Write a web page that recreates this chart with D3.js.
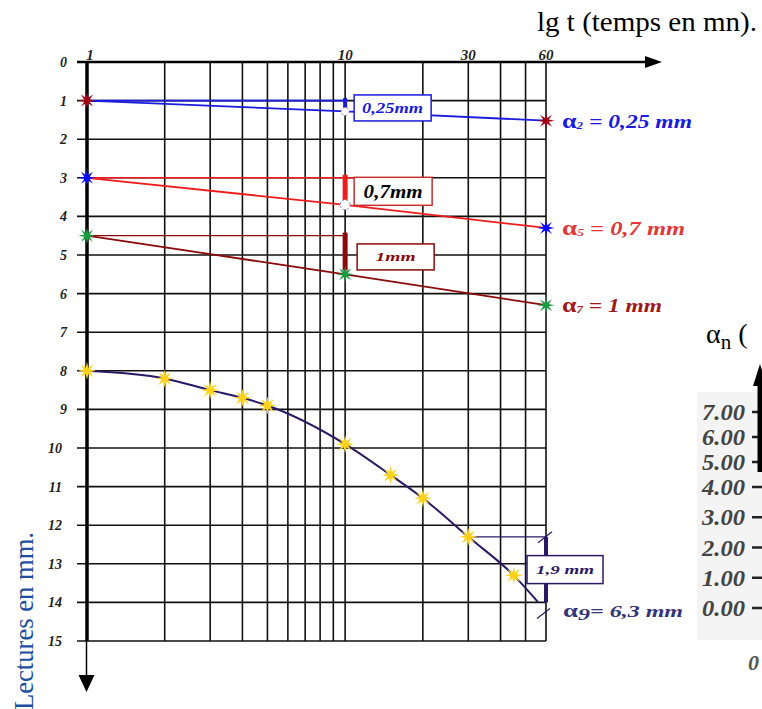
<!DOCTYPE html>
<html>
<head>
<meta charset="utf-8">
<script src="https://cdn.jsdelivr.net/npm/d3@7"></script>
<style>
  body { margin: 0; background: #fff; }
  svg { display: block; }
  text { font-family: "Liberation Serif", "Times New Roman", serif; }
</style>
</head>
<body>
<svg id="chart" width="762" height="709"></svg>
<script>
// ================= DATA ===================
// time axis (minutes, log scale) and readings (mm)
const timeTicks = [1, 2, 3, 4, 5, 6, 7, 8, 9, 10, 20, 30, 40, 50, 60];
const timeLabels = [1, 10, 30, 60];
const readingTicks = d3.range(0, 16);

// series alpha2 (blue line)
const tA2 = [1, 10, 60];
const rA2 = [1.0, 1.28, 1.52];
// series alpha5 (red line)
const tA5 = [1, 10, 60];
const rA5 = [3.0, 3.7, 4.3];
// series alpha7 (dark red line)
const tA7 = [1, 10, 60];
const rA7 = [4.5, 5.5, 6.3];
// series alpha9 (navy curve)
const tA9 = [1, 2, 3, 4, 5, 10, 15, 20, 30, 45, 56];
const rA9 = [8.0, 8.2, 8.5, 8.7, 8.9, 9.9, 10.7, 11.3, 12.3, 13.3, 14.0];

// second (cut off) chart on the right
const alphaTicks = [0, 1, 2, 3, 4, 5, 6, 7];
const alphaTickLabels = ["0.00", "1.00", "2.00", "3.00", "4.00", "5.00", "6.00", "7.00"];

// ================= SETTINGS ===================
const svg = d3.select("#chart");
const x = d3.scaleLog().domain([1, 60]).range([87, 546]);
const y = d3.scaleLinear().domain([0, 15]).range([62, 641]);
// right axis is unevenly spaced in the picture
const yAlpha = d3.scaleLinear().domain([0, 4, 7]).range([608, 487, 412]);

const gridColor = "#111";

// 8 point burst marker
function burst(r1, r2) {
  const pts = [];
  for (let i = 0; i < 16; i++) {
    const r = i % 2 === 0 ? r1 : r2;
    const a = (Math.PI / 8) * i - Math.PI / 2;
    pts.push([r * Math.cos(a), r * Math.sin(a)]);
  }
  return "M" + pts.map((p) => p.join(",")).join("L") + "Z";
}

// ================= GRID ===================
const grid = svg.append("g");

grid
  .selectAll(".vline")
  .data(timeTicks)
  .join("line")
  .attr("x1", (d) => x(d))
  .attr("x2", (d) => x(d))
  .attr("y1", y(0))
  .attr("y2", y(15))
  .attr("stroke", gridColor)
  .attr("stroke-width", 1.6);

grid
  .selectAll(".hline")
  .data(readingTicks.filter((d) => d > 0))
  .join("line")
  .attr("x1", x(1) - 10)
  .attr("x2", x(60))
  .attr("y1", (d) => y(d))
  .attr("y2", (d) => y(d))
  .attr("stroke", gridColor)
  .attr("stroke-width", 1.6);

// ---------- top axis (time) ----------
svg
  .append("line")
  .attr("x1", x(1) - 10)
  .attr("x2", 648)
  .attr("y1", y(0))
  .attr("y2", y(0))
  .attr("stroke", "#000")
  .attr("stroke-width", 2.5);
svg
  .append("path")
  .attr("d", `M645,${y(0) - 6} L662,${y(0)} L645,${y(0) + 6} Z`)
  .attr("fill", "#000");

svg
  .selectAll(".xlab")
  .data(timeLabels)
  .join("text")
  .attr("x", (d) => x(d) + (d === 1 ? 3 : 0))
  .attr("y", y(0) - 2)
  .attr("text-anchor", "middle")
  .attr("font-size", 15)
  .attr("font-style", "italic")
  .attr("font-weight", "bold")
  .attr("fill", "#222")
  .text((d) => d);

svg
  .append("text")
  .attr("x", 537)
  .attr("y", 31)
  .attr("font-size", 28)
  .attr("fill", "#000")
  .attr("textLength", 220)
  .attr("lengthAdjust", "spacingAndGlyphs")
  .text("lg t (temps en mn).");

// ---------- left axis (readings) ----------
svg
  .append("line")
  .attr("x1", x(1))
  .attr("x2", x(1))
  .attr("y1", y(0))
  .attr("y2", y(15))
  .attr("stroke", "#000")
  .attr("stroke-width", 3.5);
svg
  .append("line")
  .attr("x1", x(1) - 0.5)
  .attr("x2", x(1) - 0.5)
  .attr("y1", y(15))
  .attr("y2", 678)
  .attr("stroke", "#000")
  .attr("stroke-width", 1.5);
svg
  .append("path")
  .attr("d", `M${x(1) - 8.5},675 L${x(1) + 7.5},675 L${x(1) - 0.5},692 Z`)
  .attr("fill", "#000");

svg
  .selectAll(".ylab")
  .data(readingTicks)
  .join("text")
  .attr("x", (d) => (d < 10 ? 67 : 62))
  .attr("y", (d) => y(d) + 5)
  .attr("text-anchor", "end")
  .attr("font-size", 14)
  .attr("font-style", "italic")
  .attr("font-weight", "bold")
  .attr("fill", "#222")
  .text((d) => d);

svg
  .append("text")
  .attr("transform", "translate(33,710) rotate(-90)")
  .attr("font-size", 27)
  .attr("fill", "#1d4f9e")
  .attr("textLength", 178)
  .attr("lengthAdjust", "spacingAndGlyphs")
  .text("Lectures en mm.");

// ================= SERIES ===================
const lineGen = d3
  .line()
  .x((d) => x(d[0]))
  .y((d) => y(d[1]));

function drawSeries(ts, rs, color, width, curve) {
  const pts = ts.map((t, i) => [t, rs[i]]);
  svg
    .append("path")
    .attr("d", lineGen.curve(curve || d3.curveLinear)(pts))
    .attr("fill", "none")
    .attr("stroke", color)
    .attr("stroke-width", width);
  return pts;
}

// reference horizontals from the first reading
function refLine(t0, t1, r, color, width) {
  svg
    .append("line")
    .attr("x1", x(t0))
    .attr("x2", x(t1))
    .attr("y1", y(r))
    .attr("y2", y(r))
    .attr("stroke", color)
    .attr("stroke-width", width);
}

// thick vertical difference bar
function diffBar(t, r0, r1, color, width) {
  svg
    .append("line")
    .attr("x1", x(t))
    .attr("x2", x(t))
    .attr("y1", y(r0))
    .attr("y2", y(r1))
    .attr("stroke", color)
    .attr("stroke-width", width);
}

function markers(pts, color, r1, r2) {
  svg
    .append("g")
    .selectAll("path")
    .data(pts)
    .join("path")
    .attr("transform", (d) => `translate(${x(d[0])},${y(d[1])})`)
    .attr("d", burst(r1, r2))
    .attr("fill", color);
}

function box(x0, yc, w, h, border, label, color, size, len) {
  svg
    .append("rect")
    .attr("x", x0)
    .attr("y", yc - h / 2)
    .attr("width", w)
    .attr("height", h)
    .attr("fill", "#fff")
    .attr("stroke", border)
    .attr("stroke-width", 1.5);
  svg
    .append("text")
    .attr("x", x0 + w / 2)
    .attr("y", yc + size * 0.35)
    .attr("text-anchor", "middle")
    .attr("font-size", size)
    .attr("font-style", "italic")
    .attr("font-weight", "bold")
    .attr("fill", color)
    .attr("textLength", len)
    .attr("lengthAdjust", "spacingAndGlyphs")
    .text(label);
}

function alphaLabel(x0, base, sub, rest, color, subSmall, size, len) {
  const t = svg
    .append("text")
    .attr("x", x0)
    .attr("y", base)
    .attr("font-size", size)
    .attr("font-style", "italic")
    .attr("font-weight", "bold")
    .attr("fill", color)
    .attr("textLength", len)
    .attr("lengthAdjust", "spacingAndGlyphs");
  t.append("tspan").attr("font-size", size + 2).attr("font-style", "normal").text("α");
  t.append("tspan")
    .attr("font-size", subSmall ? size * 0.55 : size)
    .attr("dy", subSmall ? 1 : 3)
    .text(sub);
  t.append("tspan").attr("dy", subSmall ? -1 : -3).text(rest);
}

// ---------- alpha2 ----------
const cA2 = "#1a1ae0";
refLine(1, 10, rA2[0], cA2, 1.6);
const pA2 = drawSeries(tA2, rA2, cA2, 1.8);
diffBar(10, rA2[0] - 0.07, rA2[1] - 0.05, cA2, 4);
svg.append("circle").attr("cx", x(10)).attr("cy", y(rA2[1]))
  .attr("r", 4).attr("fill", "#fff").attr("stroke", "#d06080")
  .attr("stroke-dasharray", "2,2");
box(x(10) + 9, y(1.19), 77, 26, cA2, "0,25mm", cA2, 14, 61);
markers([pA2[0], pA2[2]], "#a00010", 8.5, 3);
alphaLabel(562, 128, "2", " = 0,25 mm", cA2, true, 18, 130);

// ---------- alpha5 ----------
const cA5 = "#f01c1c";
refLine(1, 10, rA5[0], cA5, 1.4);
svg.append("line").attr("x1", x(10)).attr("x2", x(10) + 9)
  .attr("y1", y(rA5[0])).attr("y2", y(rA5[0]))
  .attr("stroke", cA5).attr("stroke-width", 1.4);
const pA5 = drawSeries(tA5, rA5, cA5, 1.8);
diffBar(10, rA5[0] - 0.08, rA5[1] - 0.12, cA5, 5);
svg.append("circle").attr("cx", x(10)).attr("cy", y(rA5[1]))
  .attr("r", 5).attr("fill", "#fff").attr("stroke", "#a070d0")
  .attr("stroke-dasharray", "2,2");
box(x(10) + 9, y(3.35), 78, 28, "#c83030", "0,7mm", "#000", 19, 59);
markers([pA5[0], pA5[2]], "#0a0aff", 8.5, 3);
alphaLabel(562, 235, "5", " =  0,7 mm", "#e03838", true, 18, 123);

// ---------- alpha7 ----------
const cA7 = "#8a0a0a";
refLine(1, 10, rA7[0], cA7, 1.2);
const pA7 = drawSeries(tA7, rA7, cA7, 1.8);
diffBar(10, rA7[0] - 0.08, rA7[1] - 0.1, cA7, 5);
box(x(10) + 12, y(5.05), 77, 26, cA7, "1mm", cA7, 13, 40);
markers(pA7, "#1a9a3e", 8.5, 3);
alphaLabel(562, 312, "7", " = 1 mm", "#a01818", true, 18, 100);

// ---------- alpha9 ----------
const cA9 = "#2a1a66";
refLine(30, 60, rA9[8], cA9, 1.2);
const pA9 = drawSeries(tA9, rA9, cA9, 2, d3.curveMonotoneX);
diffBar(60, rA9[8], rA9[10], cA9, 4);
svg.append("line").attr("x1", x(60) - 8).attr("x2", x(60) + 6)
  .attr("y1", y(rA9[8]) + 6).attr("y2", y(rA9[8]) - 5)
  .attr("stroke", cA9).attr("stroke-width", 1.2);
svg.append("line").attr("x1", x(60) - 9).attr("x2", x(60) + 4)
  .attr("y1", y(rA9[10]) + 16).attr("y2", y(rA9[10]) + 6)
  .attr("stroke", cA9).attr("stroke-width", 1.2);
box(x(60) - 19, y(13.15), 76, 28, cA9, "1,9 mm", cA9, 13, 58);
markers(pA9.slice(0, 10), "#ffd21a", 9, 3.4);
alphaLabel(563, 617, "9", "= 6,3 mm", "#34347a", false, 17, 120);

// ================= RIGHT PARTIAL CHART ===================
svg
  .append("rect")
  .attr("x", 697)
  .attr("y", 392)
  .attr("width", 65)
  .attr("height", 248)
  .attr("fill", "#f4f4f4");

svg
  .selectAll(".alab")
  .data(alphaTicks)
  .join("text")
  .attr("x", 702)
  .attr("y", (d) => yAlpha(d) + 8)
  .attr("font-size", 23)
  .attr("font-style", "italic")
  .attr("font-weight", "bold")
  .attr("fill", "#444")
  .attr("textLength", 43)
  .attr("lengthAdjust", "spacingAndGlyphs")
  .text((d, i) => alphaTickLabels[i]);

svg
  .selectAll(".atick")
  .data(alphaTicks)
  .join("line")
  .attr("x1", 752)
  .attr("x2", 762)
  .attr("y1", (d) => yAlpha(d))
  .attr("y2", (d) => yAlpha(d))
  .attr("stroke", "#222")
  .attr("stroke-width", 2.5);

svg
  .append("line")
  .attr("x1", 760)
  .attr("x2", 760)
  .attr("y1", 380)
  .attr("y2", 472)
  .attr("stroke", "#000")
  .attr("stroke-width", 5);
svg
  .append("path")
  .attr("d", "M753,386 L760,364 L767,386 Z")
  .attr("fill", "#000");

svg
  .append("text")
  .attr("x", 748)
  .attr("y", 670)
  .attr("font-size", 22)
  .attr("font-style", "italic")
  .attr("font-weight", "bold")
  .attr("fill", "#555")
  .text("0");

const an = svg
  .append("text")
  .attr("x", 706)
  .attr("y", 343)
  .attr("font-size", 28)
  .attr("fill", "#000");
an.append("tspan").text("α");
an.append("tspan").attr("font-size", 21).attr("dy", 6).text("n");
an.append("tspan").attr("dy", -6).text(" (");
</script>
</body>
</html>
